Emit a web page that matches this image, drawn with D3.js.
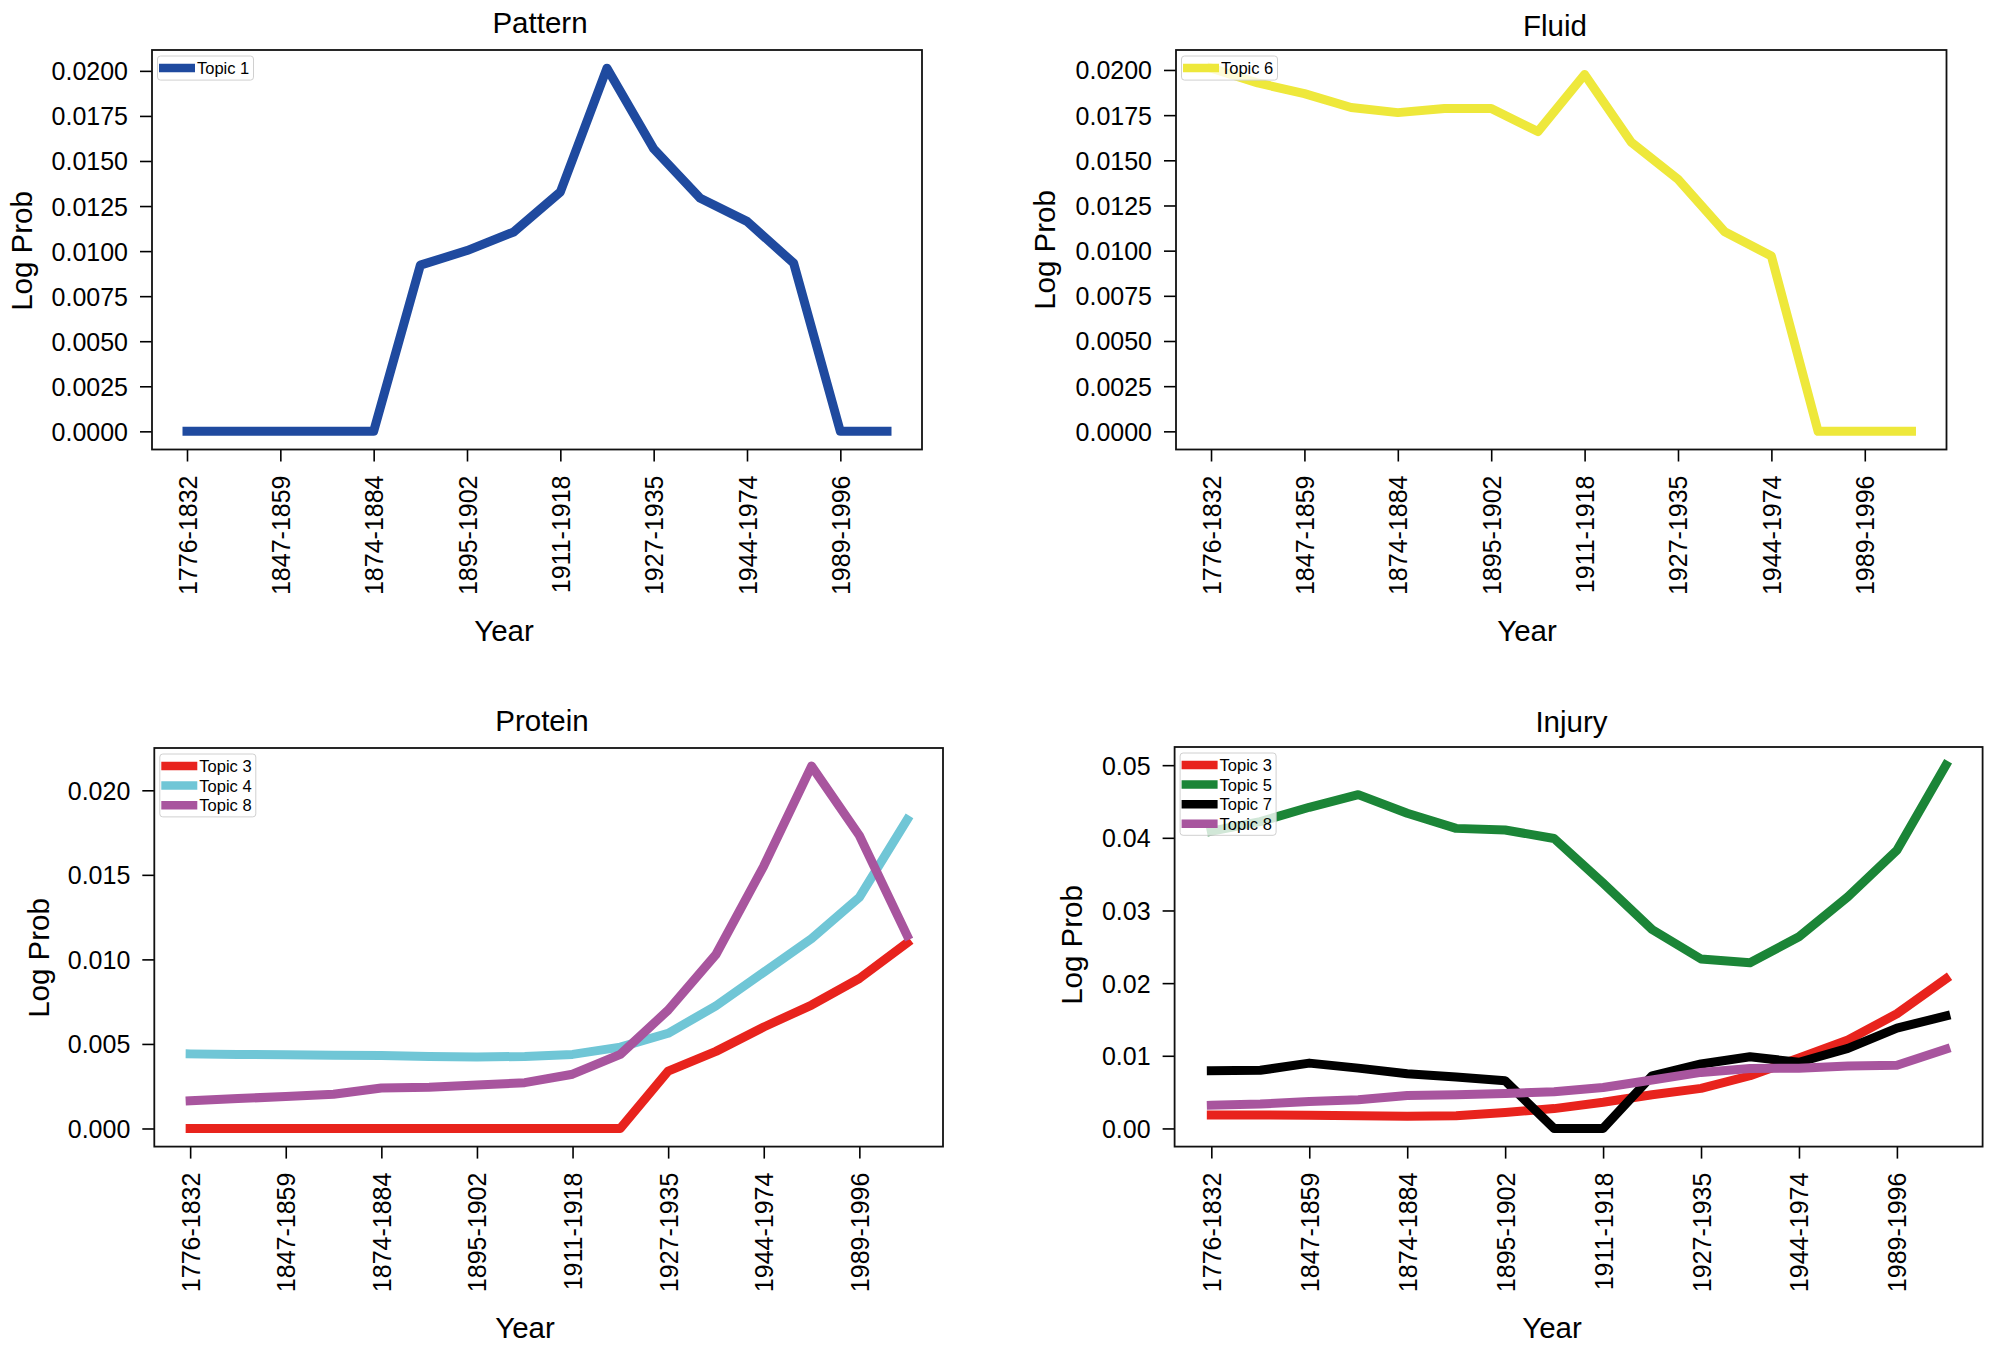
<!DOCTYPE html>
<html><head><meta charset="utf-8">
<script src="https://cdn.jsdelivr.net/npm/d3@7"></script>
<style>
body{margin:0;background:#fff;}
svg{display:block;font-family:"Liberation Sans",Arial,Helvetica,sans-serif;}
</style>
</head><body><svg id="c" width="1995" height="1351"></svg>
<script>
// ---------- data ----------
const steps = [0,1,2,3,4,5,6,7,8,9,10,11,12,13,14,15];
const tickSteps = [0,2,4,6,8,10,12,14];
const periodLabels = ["1776-1832","1847-1859","1874-1884","1895-1902","1911-1918","1927-1935","1944-1974","1989-1996"];

const patternTopic1 = [0,0,0,0,0,0.00922,0.01003,0.01106,0.01328,0.02015,0.01568,0.01293,0.01165,0.00933,0,0];
const fluidTopic6   = [0.0201,0.01928,0.01869,0.01792,0.01764,0.01787,0.01787,0.01659,0.01975,0.0160,0.01395,0.01105,0.0097,0,0,0];

const proteinTopic3 = [0,0,0,0,0,0,0,0,0,0,0.00339,0.00456,0.0060,0.0073,0.00887,0.01098];
const proteinTopic4 = [0.00441,0.00438,0.00436,0.00433,0.00431,0.00426,0.00423,0.00426,0.00438,0.00481,0.00563,0.00725,0.00924,0.01123,0.01367,0.01826];
const proteinTopic8 = [0.00164,0.00177,0.00189,0.00202,0.00239,0.00244,0.00257,0.00271,0.00321,0.00438,0.0070,0.01029,0.01552,0.02143,0.01733,0.01141];

const injuryTopic3 = [0.00186,0.00186,0.0018,0.00174,0.00168,0.00174,0.0022,0.00273,0.0036,0.00464,0.00551,0.00725,0.00969,0.01218,0.01578,0.02059];
const injuryTopic5 = [0.0409,0.04223,0.0442,0.04594,0.04339,0.0413,0.04107,0.03991,0.03376,0.02738,0.02332,0.0228,0.02639,0.0319,0.03828,0.0500];
const injuryTopic7 = [0.00795,0.008,0.00899,0.0083,0.00754,0.00708,0.00655,0,0,0.00725,0.00887,0.00986,0.00911,0.01102,0.0138,0.01549];
const injuryTopic8 = [0.00319,0.00336,0.00371,0.00394,0.00452,0.00464,0.00481,0.00505,0.00563,0.00667,0.00771,0.00824,0.00829,0.00858,0.0087,0.0109];

const yTicksFine   = [0,0.0025,0.005,0.0075,0.01,0.0125,0.015,0.0175,0.02];
const yTicksProt   = [0,0.005,0.01,0.015,0.02];
const yTicksInjury = [0,0.01,0.02,0.03,0.04,0.05];

// ---------- styling / layout ----------
const C = {blue:"#1f4a9f", yellow:"#eee83b", red:"#e8231d", cyan:"#70c6d6", purple:"#a8559e", green:"#1b8537", black:"#000000"};

const panels = [
  {title:"Pattern", left:152, right:922, top:50, bottom:449.5, titleX:540, titleY:33, ylabX:32, ylabY:251, xlabX:504, xlabY:641,
   yTicks:yTicksFine, fmt:".4f",
   series:[{name:"Topic 1", values:patternTopic1, color:C.blue}]},
  {title:"Fluid", left:1176, right:1946.5, top:50, bottom:449.5, titleX:1555, titleY:36, ylabX:1055, ylabY:250, xlabX:1527, xlabY:641,
   yTicks:yTicksFine, fmt:".4f",
   series:[{name:"Topic 6", values:fluidTopic6, color:C.yellow}]},
  {title:"Protein", left:154.3, right:943, top:748, bottom:1146.6, titleX:542, titleY:731, ylabX:49, ylabY:958, xlabX:525, xlabY:1338,
   yTicks:yTicksProt, fmt:".3f",
   series:[{name:"Topic 3", values:proteinTopic3, color:C.red},
           {name:"Topic 4", values:proteinTopic4, color:C.cyan},
           {name:"Topic 8", values:proteinTopic8, color:C.purple}]},
  {title:"Injury", left:1174.6, right:1982.6, top:747, bottom:1146.6, titleX:1571.5, titleY:732, ylabX:1082, ylabY:945, xlabX:1552, xlabY:1338,
   yTicks:yTicksInjury, fmt:".2f",
   series:[{name:"Topic 3", values:injuryTopic3, color:C.red},
           {name:"Topic 5", values:injuryTopic5, color:C.green},
           {name:"Topic 7", values:injuryTopic7, color:C.black},
           {name:"Topic 8", values:injuryTopic8, color:C.purple}]}
];

const svg = d3.select("#c");
svg.append("rect").attr("width",1995).attr("height",1351).attr("fill","#fff");

panels.forEach(p => {
  const g = svg.append("g");
  const all = p.series.flatMap(s => s.values);
  const lo = d3.min(all), hi = d3.max(all), m = (hi - lo) * 0.05;
  const x = d3.scaleLinear().domain([d3.min(steps) - 0.75, d3.max(steps) + 0.75]).range([p.left, p.right]);
  const y = d3.scaleLinear().domain([lo - m, hi + m]).range([p.bottom, p.top]);

  // y axis
  const ya = g.append("g").attr("transform", `translate(${p.left},0)`)
    .call(d3.axisLeft(y).tickValues(p.yTicks).tickFormat(d3.format(p.fmt)).tickSize(12).tickPadding(12));
  ya.select(".domain").remove();
  ya.attr("font-size", 25).attr("font-family", null).attr("color", "#000");
  ya.selectAll("line").attr("stroke-width", 1.6);
  ya.selectAll("text").attr("dy", "0.36em").attr("fill", "#000");

  // x axis
  const xa = g.append("g").attr("transform", `translate(0,${p.bottom})`)
    .call(d3.axisBottom(x).tickValues(tickSteps).tickFormat((d, i) => periodLabels[i]).tickSize(12));
  xa.select(".domain").remove();
  xa.attr("font-size", 25).attr("font-family", null).attr("color", "#000");
  xa.selectAll("line").attr("stroke-width", 1.6);
  xa.selectAll("text").attr("y", 0).attr("x", -26).attr("dy", "0.36em")
    .attr("transform", "rotate(-90)").attr("text-anchor", "end").attr("fill", "#000");

  // lines
  const line = d3.line().x((d, i) => x(steps[i])).y(d => y(d));
  p.series.forEach(s => {
    g.append("path").datum(s.values).attr("d", line)
      .attr("fill", "none").attr("stroke", s.color).attr("stroke-width", 9)
      .attr("stroke-linejoin", "round").attr("stroke-linecap", "square");
  });

  // frame
  g.append("rect").attr("x", p.left).attr("y", p.top)
    .attr("width", p.right - p.left).attr("height", p.bottom - p.top)
    .attr("fill", "none").attr("stroke", "#111").attr("stroke-width", 1.8);

  // labels
  g.append("text").attr("x", p.titleX).attr("y", p.titleY).attr("text-anchor", "middle")
    .attr("font-size", 29.5).text(p.title);
  g.append("text").attr("transform", `translate(${p.ylabX},${p.ylabY}) rotate(-90)`)
    .attr("text-anchor", "middle").attr("font-size", 29.5).text("Log Prob");
  g.append("text").attr("x", p.xlabX).attr("y", p.xlabY).attr("text-anchor", "middle")
    .attr("font-size", 29.5).text("Year");

  // legend
  const n = p.series.length;
  const lx = p.left + 5.5, ly = p.top + 6;
  const lg = g.append("g").attr("transform", `translate(${lx},${ly})`);
  lg.append("rect").attr("x", 0).attr("y", 0).attr("width", 96).attr("height", 4.7 + n * 19.4)
    .attr("rx", 3).attr("fill", "#fff").attr("fill-opacity", 0.8)
    .attr("stroke", "#d0d0d0").attr("stroke-width", 1);
  p.series.forEach((s, i) => {
    const cy = 12 + i * 19.6;
    lg.append("line").attr("x1", 1.5).attr("x2", 37.5).attr("y1", cy).attr("y2", cy)
      .attr("stroke", s.color).attr("stroke-width", 8.5);
    lg.append("text").attr("x", 39.5).attr("y", cy).attr("dy", "0.36em")
      .attr("font-size", 16.5).text(s.name);
  });
});
</script>
</body></html>
